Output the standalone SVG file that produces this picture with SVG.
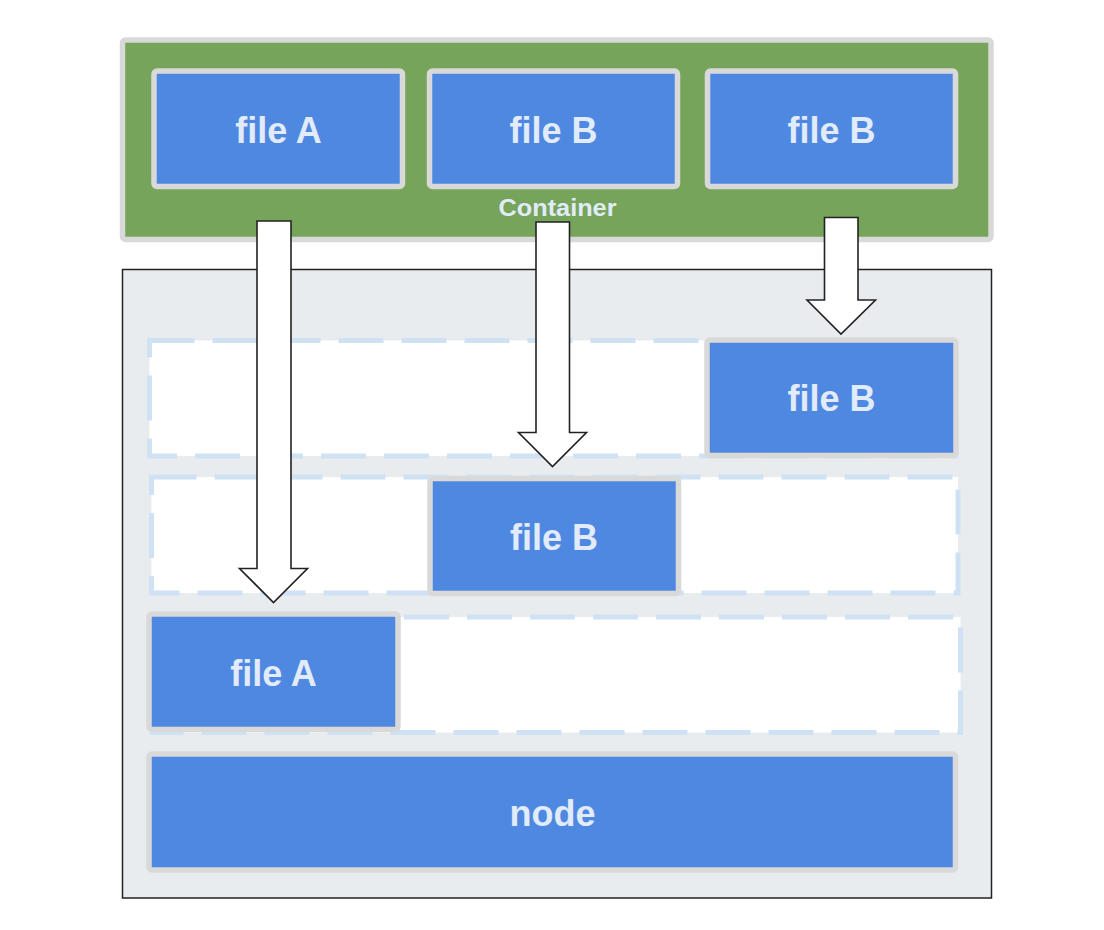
<svg xmlns="http://www.w3.org/2000/svg" width="1104" height="930" viewBox="0 0 1104 930">
<style>
.box{fill:#4f88e0;stroke:#d9d9d9;stroke-width:5.5}
.lbl{font-family:"Liberation Sans",Arial,sans-serif;font-weight:bold;font-size:36px;fill:#e2ebf9;text-anchor:middle}
.row{fill:#ffffff;stroke:#cfe2f3;stroke-width:5;stroke-dasharray:45 18}
.arrow{fill:#ffffff;stroke:#222222;stroke-width:1.6;stroke-linejoin:miter}
</style>
<rect width="1104" height="930" fill="#ffffff"/>
<g id="container">
<rect x="122.5" y="40" width="868.5" height="199.5" rx="3" fill="#75a45a" stroke="#d9d9d9" stroke-width="5.5"/>
<text x="557.5" y="216" class="lbl" style="font-size:23px" textLength="118" lengthAdjust="spacingAndGlyphs">Container</text>
</g>
<g id="fileA-top"><rect class="box" x="154" y="71" width="248.5" height="115.5" rx="3"/><text class="lbl" x="278.5" y="142.5">file A</text></g>
<g id="fileB-top1"><rect class="box" x="429.5" y="71" width="248" height="115.5" rx="3"/><text class="lbl" x="553.5" y="142.5">file B</text></g>
<g id="fileB-top2"><rect class="box" x="707.5" y="71" width="248" height="115.5" rx="3"/><text class="lbl" x="831.5" y="142.5">file B</text></g>
<g id="host">
<rect x="122.5" y="269.5" width="869" height="628.5" fill="#e8ecee" stroke="#222222" stroke-width="1.5"/>
</g>
<g id="row1"><rect class="row" x="149.5" y="340.5" width="806.5" height="115.5"/></g>
<g id="row2"><rect class="row" x="151.5" y="477" width="806.5" height="116"/></g>
<g id="row3"><rect class="row" x="152" y="617" width="808.5" height="115.5"/></g>
<g id="fileB-row1"><rect class="box" x="707" y="340" width="249" height="115.5" rx="3"/><text class="lbl" x="831.5" y="410.5">file B</text></g>
<g id="fileB-row2"><rect class="box" x="430" y="478.5" width="248.5" height="115" rx="3"/><text class="lbl" x="554" y="549.5">file B</text></g>
<g id="fileA-row3"><rect class="box" x="149" y="614" width="249" height="115.5" rx="3"/><text class="lbl" x="273.5" y="685.5">file A</text></g>
<g id="node"><rect class="box" x="149" y="754" width="806.5" height="116" rx="3"/><text class="lbl" x="552.5" y="825.5">node</text></g>
<g id="connectors">
<polygon class="arrow" points="257,221 291,221 291,568.5 307.5,568.5 273.5,602.5 239.5,568.5 257,568.5"/>
<polygon class="arrow" points="536,222 569.5,222 569.5,432.5 586.5,432.5 552.5,466.5 518.5,432.5 536,432.5"/>
<polygon class="arrow" points="824.5,217.5 858,217.5 858,300 875.5,300 841,334 807,300 824.5,300"/>
</g>
</svg>
